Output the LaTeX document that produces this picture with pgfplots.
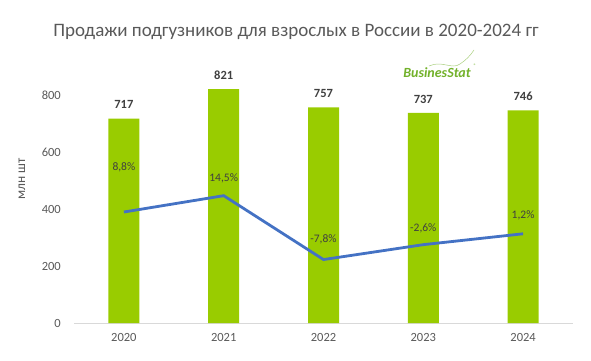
\documentclass[border=0pt]{standalone}
\usepackage{pgfplots}
\pgfplotsset{compat=1.18}
\usepackage{fontspec}
\setmainfont{Carlito}
\definecolor{bargreen}{HTML}{99CC00}
\definecolor{lineblue}{HTML}{4472C4}
\definecolor{txt}{HTML}{404040}
\definecolor{tick}{HTML}{595959}
\definecolor{logo}{HTML}{72B12A}
\begin{document}
\begin{tikzpicture}
\path[use as bounding box] (-74pt,-37pt) rectangle (517pt,323pt);
\begin{axis}[
  scale only axis, width=499pt, height=256.5pt,
  xmin=-0.5, xmax=4.5, ymin=0, ymax=900,
  xtick={0,1,2,3,4}, xticklabels={2020,2021,2022,2023,2024},
  ytick={0,200,400,600,800},
  /pgf/number format/assume math mode=true,
  axis x line*=bottom, axis y line*=left,
  x axis line style={draw=black!15, -},
  y axis line style={draw=none},
  major tick length=0pt,
  tick label style={font=\fontsize{12.5}{14}\selectfont, text=tick},
  xticklabel style={anchor=center, inner sep=0pt, yshift=-14pt},
  yticklabel style={anchor=east, inner sep=0pt, xshift=-13pt},
  clip=false,
  ybar, bar width=31pt,
  nodes near coords,
  every node near coord/.append style={font=\bfseries\fontsize{12.5}{14}\selectfont, text=txt, anchor=center, inner sep=0pt, yshift=14pt},
]
\addplot[fill=bargreen, draw=none] coordinates {(0,717) (1,821) (2,757) (3,737) (4,746)};
\end{axis}
\begin{axis}[
  scale only axis, width=499pt, height=256.5pt,
  xmin=-0.5, xmax=4.5, ymin=-29.95, ymax=59.6,
  hide x axis, hide y axis, clip=false,
  /pgf/number format/assume math mode=true,
]
\addplot[color=lineblue, line width=2.8pt,
  point meta=explicit,
  visualization depends on={\thisrow{off}\as\myoff},
  nodes near coords={\pgfmathprintnumber[use comma,fixed,fixed zerofill,precision=1]{\pgfplotspointmeta}\%},
  every node near coord/.append style={font=\fontsize{11.5}{13}\selectfont, text=txt, anchor=center, inner sep=0pt, yshift=\myoff pt},
] table[x=x, y=p, meta=p] {
x p off
0 8.8 45
1 14.5 17
2 -7.8 20
3 -2.6 16
4 1.2 18
};
\end{axis}
\node[text=tick, font=\fontsize{19}{22}\selectfont] at (222pt,291pt) {Продажи подгузников для взрослых в России в 2020-2024 гг};
\node[text=tick, font=\fontsize{13.5}{15}\selectfont, rotate=90] at (-52pt,144pt) {млн шт};
\node[text=logo, font=\bfseries\itshape\fontsize{14}{16}\selectfont, inner sep=0pt] at (363pt,250pt) {BusinesStat};
\node[text=logo, font=\fontsize{5}{6}\selectfont, inner sep=0pt] at (401pt,257pt) {®};
\draw[logo!60, line width=0.5pt] (355pt,257pt) .. controls (368pt,263pt) and (378pt,253pt) .. (386pt,259pt) .. controls (392pt,263pt) and (396pt,267pt) .. (400pt,273pt);
\end{tikzpicture}
\end{document}
